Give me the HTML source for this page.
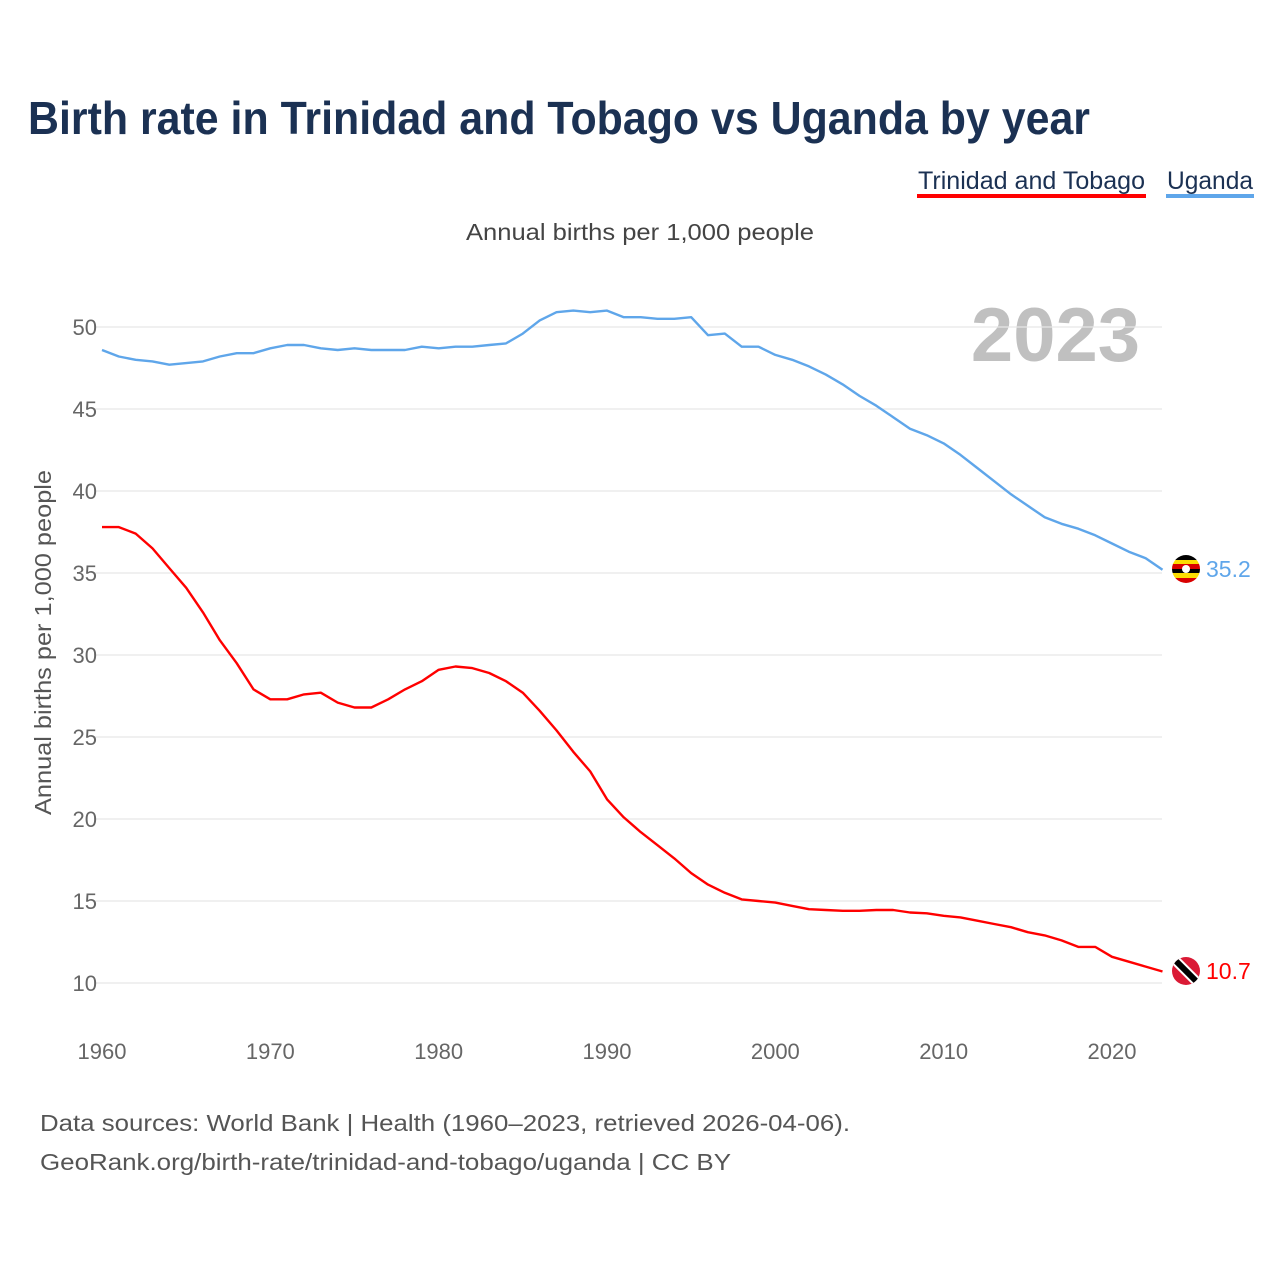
<!DOCTYPE html>
<html><head><meta charset="utf-8"><style>
html,body{margin:0;padding:0;background:#fff;}
svg{display:block;font-family:"Liberation Sans",sans-serif;}
</style></head><body>
<svg id="chart" width="1280" height="1280" viewBox="0 0 1280 1280">
<text x="28" y="134" font-size="46" font-weight="bold" fill="#1b3153" textLength="1062" lengthAdjust="spacingAndGlyphs">Birth rate in Trinidad and Tobago vs Uganda by year</text>
<g>
<g>
<text x="918" y="189" font-size="25" fill="#1b3153" textLength="227" lengthAdjust="spacingAndGlyphs">Trinidad and Tobago</text>
<rect x="917" y="194" width="229" height="4" fill="#ff0000"/>
</g>
<g>
<text x="1167" y="189" font-size="25" fill="#1b3153" textLength="86" lengthAdjust="spacingAndGlyphs">Uganda</text>
<rect x="1166" y="194" width="88" height="4" fill="#5fa6ea"/>
</g>
</g>
<text x="466" y="240" font-size="23" fill="#444" textLength="348" lengthAdjust="spacingAndGlyphs">Annual births per 1,000 people</text>
<text x="1140" y="361" font-size="76" font-weight="bold" fill="#c0c0c0" text-anchor="end">2023</text>
<text transform="translate(51,815) rotate(-90)" font-size="23" fill="#555" textLength="345" lengthAdjust="spacingAndGlyphs">Annual births per 1,000 people</text>
<g id="grid"></g><g id="yticks"></g><g id="xticks"></g><g id="lines"></g>
<g>
<clipPath id="cu"><circle cx="1186" cy="569" r="14"/></clipPath>
<g clip-path="url(#cu)">
<rect x="1172" y="555" width="28" height="5" fill="#000"/><rect x="1172" y="560" width="28" height="4" fill="#fcdc04"/>
<rect x="1172" y="564" width="28" height="5" fill="#d90000"/><rect x="1172" y="569" width="28" height="4" fill="#000"/>
<rect x="1172" y="573" width="28" height="5" fill="#fcdc04"/><rect x="1172" y="578" width="28" height="5" fill="#d90000"/>
<circle cx="1186" cy="569" r="4" fill="#fff"/></g>
<text x="1206" y="577" font-size="23" fill="#5fa6ea">35.2</text>
</g>
<g>
<clipPath id="ct"><circle cx="1186" cy="971" r="14"/></clipPath>
<g clip-path="url(#ct)">
<rect x="1172" y="957" width="28" height="28" fill="#da1a35"/>
<line x1="1172" y1="957" x2="1200" y2="985" stroke="#fff" stroke-width="10"/>
<line x1="1172" y1="957" x2="1200" y2="985" stroke="#000" stroke-width="6"/></g>
<text x="1206" y="979" font-size="23" fill="#ff0000">10.7</text>
</g>
<text x="40" y="1131" font-size="23" fill="#555" textLength="810" lengthAdjust="spacingAndGlyphs">Data sources: World Bank | Health (1960–2023, retrieved 2026-04-06).</text>
<text x="40" y="1170" font-size="23" fill="#555" textLength="691" lengthAdjust="spacingAndGlyphs">GeoRank.org/birth-rate/trinidad-and-tobago/uganda | CC BY</text>
</svg>
<script>
const years = []; for (let y = 1960; y <= 2023; y++) years.push(y);
const uganda = [48.6,48.2,48.0,47.9,47.7,47.8,47.9,48.2,48.4,48.4,48.7,48.9,48.9,48.7,48.6,48.7,48.6,48.6,48.6,48.8,48.7,48.8,48.8,48.9,49.0,49.6,50.4,50.9,51.0,50.9,51.0,50.6,50.6,50.5,50.5,50.6,49.5,49.6,48.8,48.8,48.3,48.0,47.6,47.1,46.5,45.8,45.2,44.5,43.8,43.4,42.9,42.2,41.4,40.6,39.8,39.1,38.4,38.0,37.7,37.3,36.8,36.3,35.9,35.2];
const trinidad = [37.8,37.8,37.4,36.5,35.3,34.1,32.6,30.9,29.5,27.9,27.3,27.3,27.6,27.7,27.1,26.8,26.8,27.3,27.9,28.4,29.1,29.3,29.2,28.9,28.4,27.7,26.6,25.4,24.1,22.9,21.2,20.1,19.2,18.4,17.6,16.7,16.0,15.5,15.1,15.0,14.9,14.7,14.5,14.45,14.4,14.4,14.45,14.45,14.3,14.25,14.1,14.0,13.8,13.6,13.4,13.1,12.9,12.6,12.2,12.2,11.6,11.3,11.0,10.7];
const yTicks = [10,15,20,25,30,35,40,45,50];
const xTicks = [1960,1970,1980,1990,2000,2010,2020];
const NS = "http://www.w3.org/2000/svg";
const xs = y => 102 + (y - 1960) * (1010 / 60);
const ys = v => 983 - (v - 10) * 16.4;
function mk(tag, attrs, parent){const e=document.createElementNS(NS,tag);for(const k in attrs)e.setAttribute(k,attrs[k]);parent.appendChild(e);return e;}
const grid=document.getElementById('grid'), yt=document.getElementById('yticks'), xt=document.getElementById('xticks'), lines=document.getElementById('lines');
yTicks.forEach(v=>{
  const l=mk('line',{x1:95,x2:1162,y1:ys(v),y2:ys(v),stroke:'#e6e6e6','stroke-width':1.3},grid);
  
  
  const t=mk('text',{x:97,y:ys(v)+8,'font-size':22,fill:'#666','text-anchor':'end'},yt);
  t.textContent=v;
  
  
});
xTicks.forEach(y=>{
  const t=mk('text',{x:xs(y),y:1059,'font-size':22,fill:'#666','text-anchor':'middle'},xt);
  t.textContent=y;
  
  
});
function drawLine(vals,color,name){
  const d=vals.map((v,i)=>(i?'L':'M')+xs(years[i]).toFixed(1)+' '+ys(v).toFixed(1)).join(' ');
  const p=mk('path',{d:d,fill:'none',stroke:color,'stroke-width':2.4,'stroke-linejoin':'round'},lines);
  
  
}
drawLine(uganda,'#5fa6ea','uganda-line');
drawLine(trinidad,'#ff0000','trinidad-line');
</script>
</body></html>
